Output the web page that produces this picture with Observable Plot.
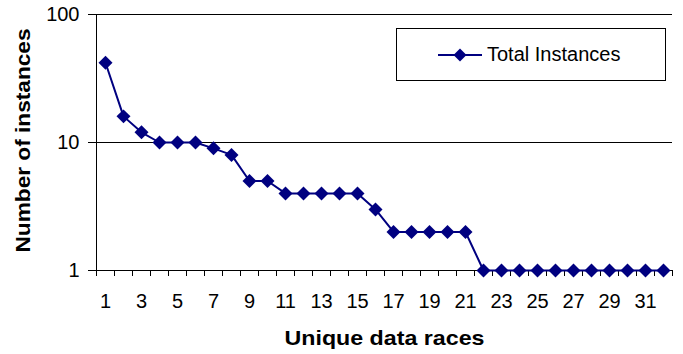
<!DOCTYPE html>
<html>
<head>
<meta charset="utf-8">
<script src="https://cdn.jsdelivr.net/npm/d3@7"></script>
<script src="https://cdn.jsdelivr.net/npm/@observablehq/plot@0.6"></script>
<style>
  html, body { margin: 0; padding: 0; background: #fff; }
  #wrap { position: relative; width: 683px; height: 354px; font-family: "Liberation Sans", Arial, sans-serif; }
  #legend { position: absolute; left: 396px; top: 28px; width: 270px; height: 53px; border: 1px solid #000; background: #fff; box-sizing: border-box; }
  #legend svg { position: absolute; left: 40px; top: 18px; }
  #legend span { position: absolute; left: 90px; top: 14px; font-size: 20px; color: #000; white-space: nowrap; }
</style>
</head>
<body>
<div id="wrap"></div>
<script>
// Data
const races = [1,2,3,4,5,6,7,8,9,10,11,12,13,14,15,16,17,18,19,20,21,22,23,24,25,26,27,28,29,30,31,32];
const instances = [42,16,12,10,10,10,9,8,5,5,4,4,4,4,4,3,2,2,2,2,2,1,1,1,1,1,1,1,1,1,1,1];
const xTickLabels = [1,3,5,7,9,11,13,15,17,19,21,23,25,27,29,31];
const yTicks = [1,10,100];
const seriesName = "Total Instances";
const xTitle = "Unique data races";
const yTitle = "Number of instances";

const data = races.map((r, i) => ({race: r, value: instances[i]}));
const boundaries = races.map(r => r - 0.5).concat([races[races.length - 1] + 0.5]);
const navy = "#000080";

const chart = Plot.plot({
  width: 683,
  height: 354,
  marginLeft: 96,
  marginRight: 11,
  marginTop: 14,
  marginBottom: 84,
  x: {type: "linear", domain: [0.5, 32.5]},
  y: {type: "log", domain: [1, 100]},
  style: {fontFamily: "'Liberation Sans', Arial, sans-serif", fontSize: "20px", color: "#000", background: "#fff", overflow: "visible"},
  marks: [
    Plot.ruleY([10, 100], {stroke: "#000", strokeWidth: 1}),
    Plot.ruleY([1], {stroke: "#000", strokeWidth: 1}),
    Plot.ruleX([0.5], {stroke: "#000", strokeWidth: 1}),
    Plot.axisY(yTicks, {tickSize: 8, tickPadding: 9, tickFormat: d => String(d), label: null, stroke: "#000", strokeOpacity: 1, fontSize: 20}),
    Plot.axisX(boundaries, {tickSize: 6, tickFormat: () => "", label: null, stroke: "#000", strokeOpacity: 1}),
    Plot.axisX(xTickLabels, {tickSize: 0, tickPadding: 23, tickFormat: d => String(d), label: null, fontSize: 20}),
    Plot.line(data, {x: "race", y: "value", stroke: navy, strokeWidth: 2}),
    Plot.dot(data, {x: "race", y: "value", symbol: "diamond2", fill: navy, stroke: "none", r: 6.3}),
    Plot.text([yTitle], {frameAnchor: "left", textAnchor: "middle", lineAnchor: "middle", dx: -73, dy: -2, rotate: -90, text: d => d, fontWeight: "bold", fontSize: 21, fill: "#000"}),
    Plot.text([xTitle], {frameAnchor: "bottom", textAnchor: "middle", lineAnchor: "middle", dy: 68, text: d => d, fontWeight: "bold", fontSize: 21, fill: "#000"})
  ]
});

// stretch the bold titles to match the reference's wider rendering
d3.select(chart).selectAll("text").each(function() {
  const t = this.textContent;
  if (t === yTitle) d3.select(this).attr("textLength", 224).attr("lengthAdjust", "spacingAndGlyphs");
  if (t === xTitle) d3.select(this).attr("textLength", 200).attr("lengthAdjust", "spacingAndGlyphs");
});

const wrap = document.getElementById("wrap");
wrap.appendChild(chart);

const legend = document.createElement("div");
legend.id = "legend";
legend.innerHTML = `<svg width="46" height="16" viewBox="0 0 46 16">
  <line x1="1" y1="8" x2="45" y2="8" stroke="${navy}" stroke-width="2"></line>
  <path d="M23,1.5 L29.5,8 L23,14.5 L16.5,8 Z" fill="${navy}"></path>
</svg><span></span>`;
legend.querySelector("span").textContent = seriesName;
wrap.appendChild(legend);
</script>
</body>
</html>
